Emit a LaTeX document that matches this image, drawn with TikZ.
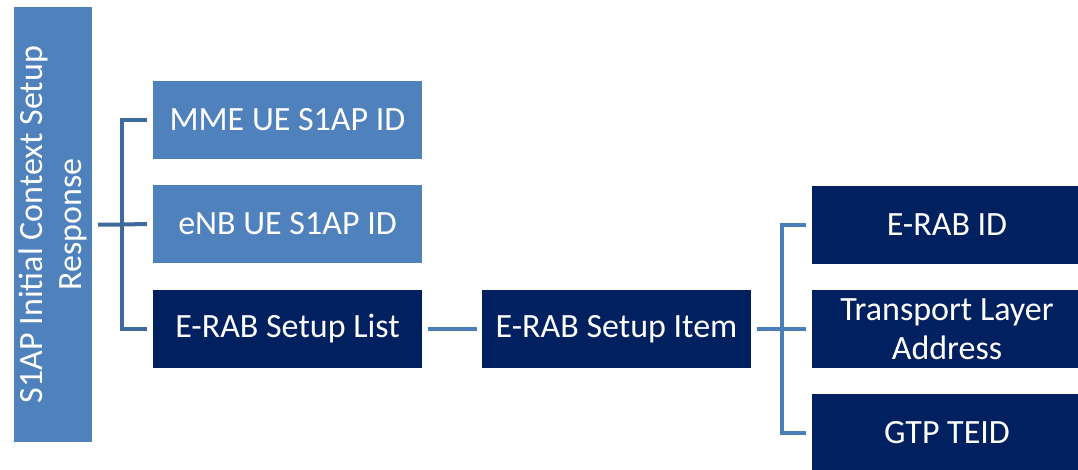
\documentclass[tikz,border=0pt]{standalone}
\usepackage{fontspec}
\setmainfont{Carlito}
\definecolor{lightbox}{HTML}{4F81BD}
\definecolor{navybox}{HTML}{002060}
\definecolor{connA}{HTML}{3F6A9E}
\definecolor{connB}{HTML}{4A7EBB}
\begin{document}
\begin{tikzpicture}[x=1pt,y=-1pt,
  box/.style={inner sep=0pt, minimum width=269pt, minimum height=78pt, text=white, align=center,
    font=\fontsize{34}{39}\selectfont},
  lbox/.style={box, fill=lightbox},
  nbox/.style={box, fill=navybox},
  conna/.style={draw=connA, line width=4pt},
  connb/.style={draw=connB, line width=4pt}]
\clip (0,0) rectangle (1078,469);
\fill[white] (0,0) rectangle (1078,469);
\node[fill=lightbox, inner sep=0pt, minimum width=78pt, minimum height=435pt] (bar) at (53,224.5) {};
\node[rotate=90, text=white, align=center, font=\fontsize{34}{39}\selectfont] (bartext) at (bar.center) {S1AP Initial Context Setup\\Response};
\node[lbox] (mme) at (287.5,120) {MME UE S1AP ID};
\node[lbox] (enb) at (287.5,224) {eNB UE S1AP ID};
\node[nbox] (list) at (287.5,329) {E-RAB Setup List};
\node[nbox] (item) at (616.5,329) {E-RAB Setup Item};
\node[nbox, minimum width=270pt] (erabid) at (947,224.5) {E-RAB ID};
\node[nbox, minimum width=270pt] (tla) at (947,329) {Transport Layer\\Address};
\node[nbox, minimum width=270pt] (gtp) at (947,433) {GTP TEID};
\coordinate (j1) at (122,224);
\coordinate (j2) at (782,329);
\draw[conna] ([xshift=6pt]bar.east) -- (j1 |- bar.east) -- ([xshift=-6pt]enb.west);
\draw[conna] ([xshift=-6pt]mme.west) -| (j1 |- list.west) -- ([xshift=-6pt]list.west);
\draw[connb] ([xshift=6pt]list.east) -- ([xshift=-5pt]item.west);
\draw[connb] ([xshift=6pt]item.east) -- ([xshift=-6pt]tla.west);
\draw[connb] ([xshift=-6pt]erabid.west) -| (j2 |- gtp.west) -- ([xshift=-6pt]gtp.west);
\end{tikzpicture}
\end{document}
